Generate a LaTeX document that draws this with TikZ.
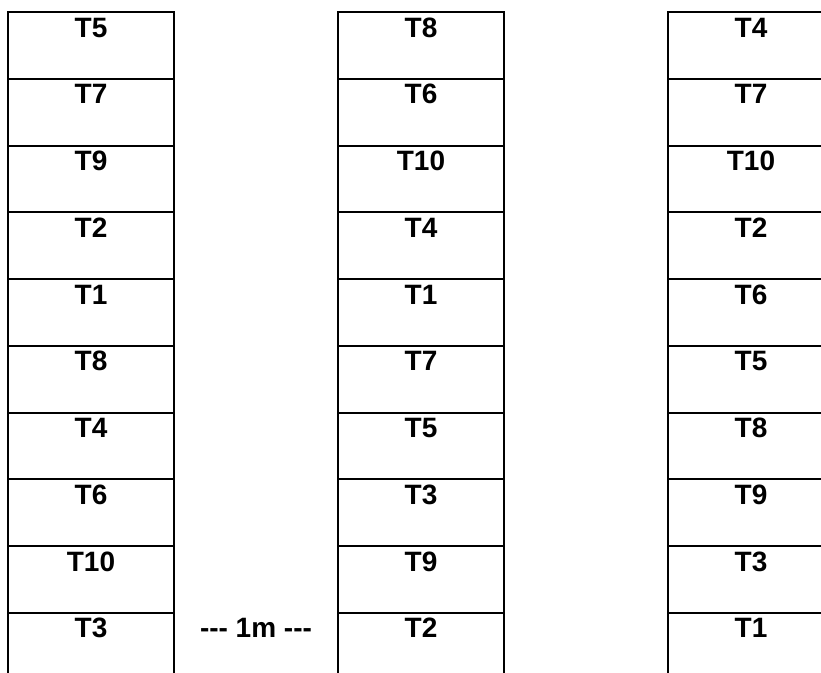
\documentclass[tikz,border=0pt]{standalone}
\usepackage{fontspec}
\setmainfont{Liberation Sans}
\usetikzlibrary{calc}

\newcommand{\threedash}{-\kern0pt-\kern0pt-}

\begin{document}
\begin{tikzpicture}[
    x=1pt, y=-1pt,
    font=\bfseries\fontsize{28}{28}\selectfont,
    plot/.style={rectangle, draw=black, line width=2pt, inner sep=0pt,
        minimum width=165.5pt, text height=25pt, text depth=41.75pt},
    gap/.style={inner sep=0pt, text height=25pt, text depth=41.75pt},
]
\useasboundingbox (0,0) rectangle (821,672);

% ---- Three columns of ten plots, top to bottom ----
\foreach \names [count=\c] in {
    {T5,T7,T9,T2,T1,T8,T4,T6,T10,T3},
    {T8,T6,T10,T4,T1,T7,T5,T3,T9,T2},
    {T4,T7,T10,T2,T6,T5,T8,T9,T3,T1}} {
  \foreach \name [count=\r] in \names {
    \node[plot] (c\c-\r) at ({91+330*(\c-1)}, {12+66.75*(\r-0.5)}) {\name};
  }
}

% ---- Spacing label between first two columns ----
\node[gap] (spacing) at ($(c1-10)!0.5!(c2-10)$) {\threedash{} 1m \threedash};

\end{tikzpicture}
\end{document}
